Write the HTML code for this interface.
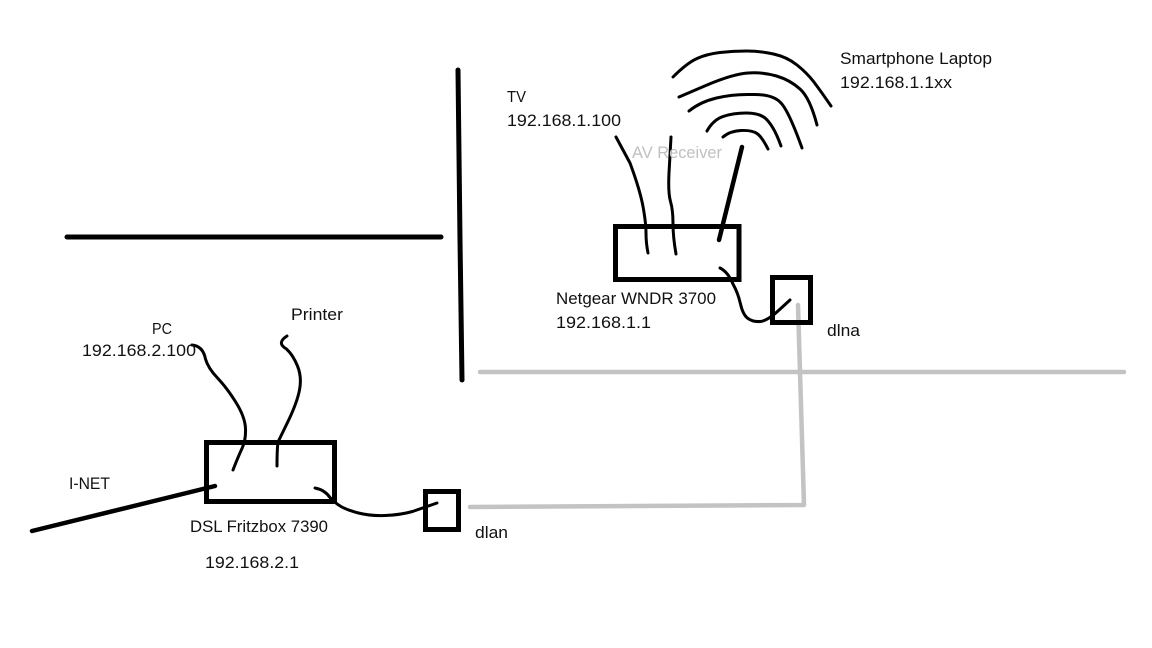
<!DOCTYPE html>
<html>
<head>
<meta charset="utf-8">
<style>
html,body{margin:0;padding:0;background:#fff;width:1152px;height:648px;overflow:hidden}
svg{display:block}
text{font-family:"Liberation Sans",sans-serif;font-size:16.5px;fill:#111}
.k{fill:none;stroke:#000;stroke-linecap:round;stroke-linejoin:round}
.g{fill:none;stroke:#c3c3c3;stroke-width:4.500;stroke-linecap:round;stroke-linejoin:round}
</style>
</head>
<body>
<svg width="1152" height="648" viewBox="0 0 1152 648" xmlns="http://www.w3.org/2000/svg">
<rect width="1152" height="648" fill="#fff"/>
<!-- gray cabling -->
<path class="g" d="M480,372 L1124,372"/>
<path class="g" d="M798,305 L800,372 L804,505 L470,507"/>
<!-- walls -->
<path class="k" stroke-width="5" d="M67,237 L441,237"/>
<path class="k" stroke-width="5" d="M458,70 L460,240 L462,380"/>
<!-- router -->
<rect x="615.500" y="226.500" width="123.500" height="53" fill="none" stroke="#000" stroke-width="5"/>
<rect x="772.500" y="277.500" width="38" height="45" fill="none" stroke="#000" stroke-width="5"/>
<path class="k" stroke-width="3" d="M720,268 Q728,272 733,284 Q738,293 740.500,304 Q743,315 748,318.500 Q753,322 760,321.500 Q767,321 778,311 L790,300"/>
<path class="k" stroke-width="3" d="M616,137 L630,163 Q640,190 643,206.500 Q646,223 646,233 Q646,243 648,253"/>
<path class="k" stroke-width="3" d="M671,137 L669,173 Q668,193 670.500,201.500 Q673,210 673,223.500 Q673,237 676,254"/>
<path class="k" stroke-width="4.500" d="M742,147 L719,240"/>
<!-- wifi arcs -->
<path class="k" stroke-width="3" d="M673,77 Q687,63 697,58.500 Q707,54 720,52.500 Q733,51 746.500,51 Q760,51 773.500,54 Q787,57 797,65 Q807,73 813.500,81.500 Q820,90 831,106"/>
<path class="k" stroke-width="3" d="M679,97 L707,85 Q733,74 748,73 Q763,72 776.500,76 Q790,80 800,89 Q810,98 817,125"/>
<path class="k" stroke-width="3" d="M689,111 Q700,102 716.500,98 Q733,94 751.500,94.500 Q772,94 780,102 Q788,109 802,148"/>
<path class="k" stroke-width="3" d="M707,131 Q713,120 723,116.500 Q733,113 746.500,113 Q762,113 768,121 Q775,129 781,146"/>
<path class="k" stroke-width="3" d="M723,137 Q730,131 741,130.500 Q752,130 757,133.500 Q762,137 768,149"/>
<!-- fritzbox -->
<rect x="206.500" y="442.500" width="128" height="59" fill="none" stroke="#000" stroke-width="5"/>
<rect x="425.500" y="491.500" width="33" height="38" fill="none" stroke="#000" stroke-width="5"/>
<path class="k" stroke-width="3" d="M192,345 Q203,346 205.500,359 Q208,368 217.500,378 Q227,388 236,402.500 Q245,417 245.500,428.500 Q246,440 242,448.500 Q238,457 233,470"/>
<path class="k" stroke-width="3" d="M287,336 Q276,343 286.500,349 Q293,355 297.500,366 Q302,377 299.500,390 Q297,403 287.500,422.500 L278,442 Q277,450 277,466"/>
<path class="k" stroke-width="4.500" d="M32,531 L215,486"/>
<path class="k" stroke-width="3" d="M315,488 Q325,490 330,497.500 Q335,503 341,506.500 Q347,510 358.500,513 Q370,516 385,515.500 Q400,515 412.500,511.500 L437,503"/>
<!-- labels -->
<text x="840" y="64" textLength="152" lengthAdjust="spacingAndGlyphs">Smartphone Laptop</text>
<text x="840" y="88" textLength="112" lengthAdjust="spacingAndGlyphs">192.168.1.1xx</text>
<text x="507" y="102" textLength="19" lengthAdjust="spacingAndGlyphs" style="font-size:15.500px">TV</text>
<text x="507" y="126" textLength="114" lengthAdjust="spacingAndGlyphs">192.168.1.100</text>
<text x="632" y="158" textLength="90" lengthAdjust="spacingAndGlyphs" style="fill:#c0c0c0">AV Receiver</text>
<text x="556" y="304" textLength="160" lengthAdjust="spacingAndGlyphs">Netgear WNDR 3700</text>
<text x="556" y="328" textLength="95" lengthAdjust="spacingAndGlyphs">192.168.1.1</text>
<text x="827" y="336" textLength="33" lengthAdjust="spacingAndGlyphs">dlna</text>
<text x="152" y="334" textLength="20" lengthAdjust="spacingAndGlyphs" style="font-size:15.500px">PC</text>
<text x="82" y="356" textLength="114" lengthAdjust="spacingAndGlyphs">192.168.2.100</text>
<text x="291" y="320" textLength="52" lengthAdjust="spacingAndGlyphs">Printer</text>
<text x="69" y="489" textLength="41" lengthAdjust="spacingAndGlyphs">I-NET</text>
<text x="190" y="532" textLength="138" lengthAdjust="spacingAndGlyphs">DSL Fritzbox 7390</text>
<text x="205" y="568" textLength="94" lengthAdjust="spacingAndGlyphs">192.168.2.1</text>
<text x="475" y="538" textLength="33" lengthAdjust="spacingAndGlyphs">dlan</text>
</svg>
</body>
</html>
